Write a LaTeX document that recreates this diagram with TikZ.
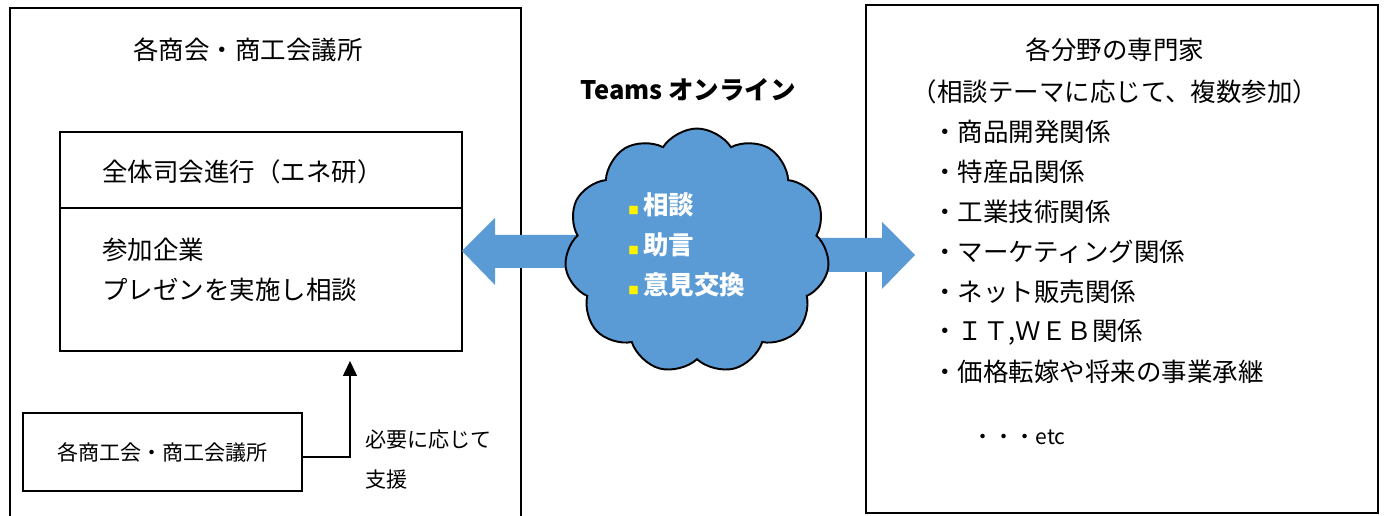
\documentclass[tikz,border=0pt]{standalone}
\usepackage{fontspec}
\setmainfont{Noto Sans CJK JP}
\usetikzlibrary{shapes.symbols,arrows.meta,positioning}
\definecolor{cloudblue}{RGB}{91,155,213}
\newcommand{\fsbig}{\fontsize{14.5pt}{17pt}\selectfont}
\newcommand{\fssmall}{\fontsize{12pt}{14pt}\selectfont}
\newcommand{\ybul}{\textcolor{yellow}{\fontsize{6pt}{6pt}\selectfont■}\,}

\begin{document}
\begin{tikzpicture}[x=0.02cm,y=-0.02cm,every node/.style={inner sep=0pt},
            frame/.style={draw,line width=1.1pt},
            txt/.style={font=\fsbig,anchor=west},
            stxt/.style={font=\fssmall,anchor=west},
            ctxt/.style={font=\fsbig\bfseries,text=white,anchor=west},
            blockarrow/.style={fill=cloudblue,draw=none}]
            \useasboundingbox(0,0)rectangle(1384,516);
            % outer boxes
            \draw[frame](10,8)rectangle(521,540);
            \draw[frame](866,5)rectangle(1378,513);
            \node[font=\fsbig](lefttitle)at(248,50){各商会・商工会議所};
            % inner box
            \node[frame,minimum width=8.04cm,minimum height=4.38cm](inner)at(261,241.5){};
            \draw[line width=0.6pt](60,208)--(462,208);
            \node[txt](moderator)at(102,172){全体司会進行（エネ研）};
            \node[txt](company)at(102,250){参加企業};
            \node[txt](present)at(102,290){プレゼンを実施し相談};
            % supporting chambers
            \node[frame,minimum width=5.58cm,minimum height=1.56cm,font=\fssmall](kaigisho)at(162.5,452){各商工会・商工会議所};
            \coordinate(up)at(350,457);
            \draw[line width=0.7pt,-{Triangle[width=0.28cm,length=0.3cm]},shorten >=0.18cm]
              (kaigisho.east|-up)--(up)--(inner.south-|up);
            \node[stxt](need)at(365,440){必要に応じて};
            \node[stxt](support)at(365,480){支援};
            % block arrows behind the cloud
            \fill[blockarrow](462,251)--(495,218)--(495,235)--(610,235)--(610,268)--(495,268)--(495,285)--cycle;
            \fill[blockarrow](790,238)--(882,238)--(882,222)--(915,255)--(882,289)--(882,272)--(790,272)--cycle;
            % cloud
            \node[font=\fsbig\bfseries](teams)at(688,90){Teams オンライン};
            \node[cloud,cloud puffs=11,cloud puff arc=115,aspect=1.1,draw,line width=1.1pt,fill=cloudblue,
              minimum width=5.3cm,minimum height=4.9cm](cloud)at(697,251){};
            \node[ctxt](talk)at(628,205){\ybul 相談};
            \node[ctxt](advice)at(628,245){\ybul 助言};
            \node[ctxt](opinion)at(628,285){\ybul 意見交換};
            % experts
            \node[font=\fsbig](righttitle)at(1115,50){各分野の専門家};
            \node[font=\fsbig](rightsub)at(1115,92){（相談テーマに応じて、複数参加）};
            \foreach \item[count=\i] in {商品開発関係,特産品関係,工業技術関係,マーケティング関係,
              ネット販売関係,{ＩＴ,ＷＥＢ関係},価格転嫁や将来の事業承継}
              \node[txt](field\i)at(932,92+40*\i){・\item};
            \node[stxt](etc)at(972,437){・・・etc};
          \end{tikzpicture}
\end{document}
